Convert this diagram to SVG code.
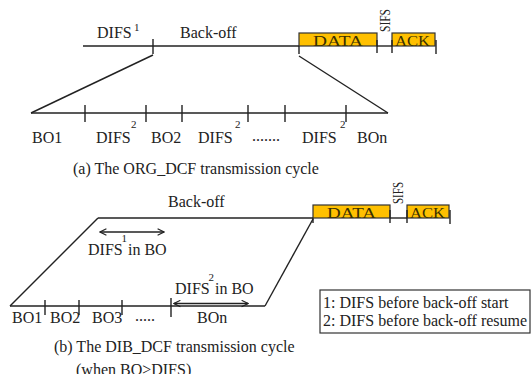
<svg xmlns="http://www.w3.org/2000/svg" width="532" height="374" viewBox="0 0 532 374">
<defs>
<style>
.ln{stroke:#222;stroke-width:1.4;fill:none}
.tk{stroke:#222;stroke-width:1.4}
.box{fill:#FFC000;stroke:#333;stroke-width:1.2}
text{font-family:"Liberation Serif","Times New Roman",serif;fill:#222;font-size:16px}
.sup{font-size:11px}
.bt{fill:#3a3000;font-size:15px}
.sifs{font-size:15px}
</style>
<marker id="ah" viewBox="0 0 10 10" refX="9" refY="5" markerWidth="8" markerHeight="8" orient="auto-start-reverse" markerUnits="userSpaceOnUse">
<path d="M1,1 L9,5 L1,9" fill="none" stroke="#222" stroke-width="1.4"/>
</marker>
</defs>
<rect width="532" height="374" fill="#fff"/>

<!-- (a) ORG_DCF -->
<g id="a-top">
<text x="97" y="38">DIFS</text>
<text class="sup" x="134" y="31">1</text>
<text x="180" y="38">Back-off</text>
</g>
<g id="a-data">
<rect class="box" x="299" y="33" width="78" height="13"/>
<text class="bt" x="313" y="46" textLength="50" lengthAdjust="spacingAndGlyphs">DATA</text>
</g>
<g id="a-sifs">
<text class="sifs" transform="translate(390,32) rotate(-90)" textLength="23" lengthAdjust="spacingAndGlyphs">SIFS</text>
</g>
<g id="a-ack">
<rect class="box" x="392" y="33" width="43" height="13"/>
<text class="bt" x="395" y="46" textLength="35" lengthAdjust="spacingAndGlyphs">ACK</text>
</g>
<g id="a-bottom">
<text x="32" y="143">BO1</text>
<text x="96" y="143">DIFS</text>
<text class="sup" x="131" y="128">2</text>
<text x="151" y="143">BO2</text>
<text x="198" y="143">DIFS</text>
<text class="sup" x="235" y="128">2</text>
<text x="252" y="141" font-size="11">.......</text>
<text x="302" y="143">DIFS</text>
<text class="sup" x="340" y="128">2</text>
<text x="357" y="143">BOn</text>
</g>
<g id="caption-a">
<text x="73" y="174">(a) The ORG_DCF transmission cycle</text>
</g>

<!-- (b) DIB_DCF -->
<g id="b-top">
<text x="168" y="207">Back-off</text>
</g>
<g id="b-data">
<rect class="box" x="313" y="205" width="77" height="13"/>
<text class="bt" x="327" y="218" textLength="49" lengthAdjust="spacingAndGlyphs">DATA</text>
</g>
<g id="b-sifs">
<text class="sifs" transform="translate(403,204) rotate(-90)" textLength="22" lengthAdjust="spacingAndGlyphs">SIFS</text>
</g>
<g id="b-ack">
<rect class="box" x="407" y="205" width="42" height="13"/>
<text class="bt" x="410" y="218" textLength="35" lengthAdjust="spacingAndGlyphs">ACK</text>
</g>
<g id="b-difs1">
<text x="88" y="255" font-size="15">DIFS</text>
<text class="sup" x="121.5" y="242">1</text>
<text x="128" y="255" font-size="15">in BO</text>
</g>
<g id="b-difs2">
<text x="175" y="294" font-size="15">DIFS</text>
<text class="sup" x="208.5" y="281">2</text>
<text x="215" y="294" font-size="15">in BO</text>
</g>
<g id="b-bottom">
<text x="12" y="323">BO1</text>
<text x="50" y="323">BO2</text>
<text x="92" y="323">BO3</text>
<text x="135" y="321" font-size="11">.....</text>
<text x="197" y="323">BOn</text>
</g>
<g id="legend">
<rect x="320" y="290" width="210" height="43" fill="#fff" stroke="#333" stroke-width="1.2"/>
<text x="323" y="308">1: DIFS before back-off start</text>
<text x="323" y="326">2: DIFS before back-off resume</text>
</g>
<g id="caption-b">
<text x="54" y="352" font-size="17">(b) The DIB_DCF transmission cycle</text>
<text x="76" y="375" font-size="17">(when BO&gt;DIFS)</text>
</g>

<g id="connectors">
<!-- (a) -->
<line class="ln" x1="83" y1="46" x2="299" y2="46"/>
<line class="tk" x1="153" y1="39" x2="153" y2="54"/>
<line class="ln" x1="153" y1="55" x2="31" y2="113"/>
<line class="tk" x1="299" y1="46" x2="299" y2="54"/>
<line class="tk" x1="377" y1="40" x2="377" y2="53"/>
<line class="ln" x1="377" y1="46" x2="392" y2="46"/>
<line class="tk" x1="392" y1="40" x2="392" y2="53"/>
<line class="tk" x1="436" y1="40" x2="436" y2="54"/>
<line class="ln" x1="299" y1="56" x2="388" y2="113"/>
<line class="ln" x1="31" y1="113" x2="388" y2="113"/>
<line class="tk" x1="85" y1="105" x2="85" y2="122"/>
<line class="tk" x1="146" y1="105" x2="146" y2="122"/>
<line class="tk" x1="182" y1="105" x2="182" y2="122"/>
<line class="tk" x1="248" y1="105" x2="248" y2="122"/>
<line class="tk" x1="285" y1="105" x2="285" y2="122"/>
<line class="tk" x1="346" y1="105" x2="346" y2="122"/>
<!-- (b) -->
<line class="ln" x1="98" y1="218" x2="313" y2="218"/>
<line class="ln" x1="98" y1="218" x2="10" y2="306"/>
<line class="ln" x1="10" y1="306" x2="265" y2="306"/>
<line class="ln" x1="265" y1="306" x2="313" y2="219"/>
<line class="tk" x1="313" y1="218" x2="313" y2="223"/>
<line class="tk" x1="390" y1="210" x2="390" y2="223"/>
<line class="ln" x1="390" y1="218" x2="407" y2="218"/>
<line class="tk" x1="407" y1="210" x2="407" y2="223"/>
<line class="tk" x1="450" y1="210" x2="450" y2="224"/>
<line class="tk" x1="45" y1="300" x2="45" y2="315"/>
<line class="tk" x1="79" y1="300" x2="79" y2="315"/>
<line class="tk" x1="122" y1="300" x2="122" y2="315"/>
<line class="tk" x1="171" y1="298" x2="171" y2="317"/>
<line class="ln" x1="100" y1="232" x2="164" y2="232" marker-start="url(#ah)" marker-end="url(#ah)"/>
<line class="ln" x1="174" y1="303.5" x2="248" y2="303.5" marker-start="url(#ah)" marker-end="url(#ah)"/>
</g>
</svg>
